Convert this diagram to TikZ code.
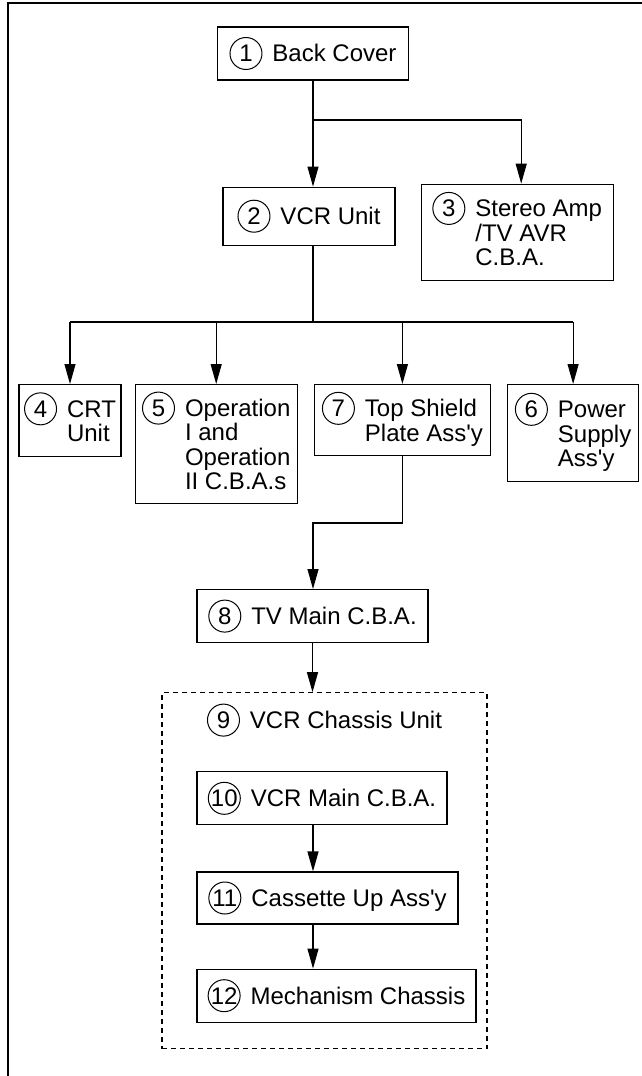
\documentclass[tikz,border=0pt]{standalone}
\usepackage{fontspec}
\setmainfont{Liberation Sans}[Ligatures=TeXOff]
\usetikzlibrary{arrows.meta, positioning}

\tikzset{
  part/.style={draw, line width=0.6pt, inner sep=2pt, font=\fontsize{12}{12}\selectfont},
  partlabel/.style={inner sep=2pt, font=\fontsize{12}{12}\selectfont},
  group/.style={draw, line width=0.6pt, dash pattern=on 2.5pt off 2pt},
  link/.style={line width=0.6pt},
  arr/.style={link, -{Triangle[length=10pt, width=5.5pt]}},
}
\newcommand\partno[1]{\tikz[baseline=(pn.base)]\node[circle, draw, line width=0.5pt, minimum size=16pt, inner sep=0pt, anchor=center, font=\fontsize{12}{12}\selectfont] (pn) {#1};}
\newcommand\partlines[1]{\begin{tabular}[t]{@{}l@{}}#1\end{tabular}}

\begin{document}
\begin{tikzpicture}[x=0.5pt, y=-0.5pt]
        \useasboundingbox (0,0) rectangle (642,1076);
        \draw[line width=1.1pt] (642,3) -- (8,3) -- (8,1076);

        \node[part, minimum width=95.5pt, minimum height=26.5pt] (b1) at (313,53.5) {\partno{1}\hspace{5pt}Back Cover};
        \node[part, minimum width=86pt, minimum height=29pt] (b2) [below=53pt of b1, xshift=-2pt] {\partno{2}\hspace{5pt}VCR Unit};
        \node[part, minimum width=96pt, minimum height=48pt] (b3) [right=12.5pt of b2.north east, anchor=north west, yshift=1.5pt] {\partno{3}\hspace{5pt}\partlines{Stereo Amp\\/TV AVR\\C.B.A.}};

        \node[part, minimum width=51pt, minimum height=36pt, anchor=north] (b4) at (70,384) {\partno{4}\hspace{5pt}\partlines{CRT\\Unit}};
        \node[part, minimum width=81pt, minimum height=59.5pt] (b5) [right=6.5pt of b4.north east, anchor=north west] {\partno{5}\hspace{5pt}\partlines{Operation\\I and\\Operation\\II C.B.A.s}};
        \node[part, minimum width=88pt, minimum height=35.5pt] (b7) [right=8pt of b5.north east, anchor=north west] {\partno{7}\hspace{5pt}\partlines{Top Shield\\Plate Ass'y}};
        \node[part, minimum width=65.5pt, minimum height=48.5pt] (b6) [right=8pt of b7.north east, anchor=north west] {\partno{6}\hspace{5pt}\partlines{Power\\Supply\\Ass'y}};

        \node[part, minimum width=115.5pt, minimum height=26.5pt, anchor=north] (b8) at (312.5,589) {\partno{8}\hspace{5pt}TV Main C.B.A.};

        %\node[part] (b9) [below=of b8] {VCR Chassis Unit};
        \node[group, minimum width=162.5pt, minimum height=178pt] (chassis) [below=24.5pt of b8, xshift=6pt] {};
        \node[partlabel] (b9) [below=3.5pt of chassis.north] {\partno{9}\hspace{5pt}VCR Chassis Unit};
        \node[part, minimum width=125pt, minimum height=26.5pt, anchor=north west] (b10) at ([xshift=17.5pt, yshift=-39.5pt]chassis.north west) {\partno{10}\hspace{5pt}VCR Main C.B.A.};
        \node[part, minimum width=130.5pt, minimum height=26pt] (b11) [below=23pt of b10.south west, anchor=north west] {\partno{11}\hspace{5pt}Cassette Up Ass'y};
        \node[part, minimum width=139.5pt, minimum height=26.5pt] (b12) [below=22pt of b11.south west, anchor=north west] {\partno{12}\hspace{5pt}Mechanism Chassis};

        \coordinate (j1) at (313,120);
        \coordinate (j2) at (313,322);
        \coordinate (j3) at (313,523);

        \draw[link] (b1.south) -- (j1);
        \draw[arr] (j1) -- (j1 |- b2.north);
        \draw[arr] (j1) -| ([xshift=2pt]b3.north);
        \draw[link] (j1 |- b2.south) -- (j2);
        \draw[link] (b4.north |- j2) -- (b6.north |- j2);
        \foreach \p in {b4, b5, b7, b6}
            \draw[arr] (\p.north |- j2) -- (\p.north);
        \draw[arr] (b7.south) |- (j3) -- (j3 |- b8.north);
        \draw[arr] (b8.south) -- (b8.south |- chassis.north);
        \draw[arr] (j3 |- b10.south) -- (j3 |- b11.north);
        \draw[arr] (j3 |- b11.south) -- (j3 |- b12.north);

\end{tikzpicture}
\end{document}
